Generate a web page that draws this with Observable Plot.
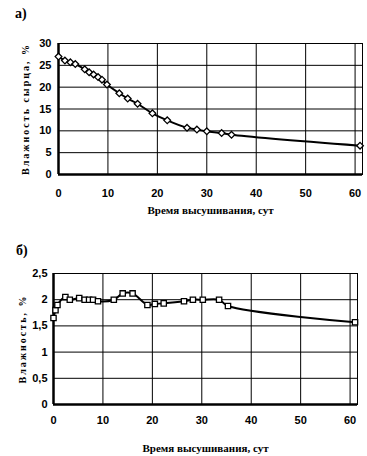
<!DOCTYPE html>
<html>
<head>
<meta charset="utf-8">
<script src="https://cdn.jsdelivr.net/npm/d3@7"></script>
<script src="https://cdn.jsdelivr.net/npm/@observablehq/plot@0.6"></script>
<style>
  body { margin: 0; background: #fff; }
  #wrap { position: relative; width: 367px; height: 456px; overflow: hidden; background: #fff; }
  .panel { position: absolute; left: 0; }
  .lab { position: absolute; font-family: "Liberation Serif", serif; font-weight: bold; font-size: 14px; color: #000; }
</style>
</head>
<body>
<div id="wrap">
  <div class="lab" style="left:15px; top:6px;">а)</div>
  <div class="lab" style="left:16px; top:243px;">б)</div>
  <div class="panel" id="top" style="top:30px;"></div>
  <div class="panel" id="bot" style="top:262px;"></div>
</div>
<script>
// Panel а) — moisture of raw brick vs drying time
const daysA = [0, 1.3, 2.4, 3.4, 5.3, 6.2, 7.1, 8, 8.8, 9.8, 12.3, 14, 16, 19, 22, 26, 28, 30, 33, 35, 61];
const moistA = [27, 26.1, 25.7, 25.3, 24.1, 23.4, 22.9, 22.3, 21.7, 20.6, 18.6, 17.4, 16.2, 14, 12.4, 10.7, 10.3, 9.9, 9.5, 9.1, 6.6];
// Panel б) — moisture vs drying time
const daysB = [0, 0.4, 0.8, 2.4, 3.3, 5.2, 6.3, 7.2, 8, 9, 12.2, 14, 16, 19, 20.5, 22.3, 26.4, 28.2, 30.2, 33.5, 35.3, 61];
const moistB = [1.65, 1.8, 1.9, 2.05, 2.0, 2.03, 2.0, 2.0, 2.0, 1.97, 2.0, 2.12, 2.12, 1.9, 1.92, 1.93, 1.97, 2.0, 2.0, 2.0, 1.88, 1.57];

const xTicks = [0, 10, 20, 30, 40, 50, 60];
const yTicksA = [0, 5, 10, 15, 20, 25, 30];
const yTicksB = [0, 0.5, 1, 1.5, 2, 2.5];
const xTitle = "Время высушивания, сут";
const yTitleA = "Влажность сырца, %";
const yTitleB = "Влажность, %";

const dataA = daysA.map((d, i) => ({x: d, y: moistA[i]}));
const dataB = daysB.map((d, i) => ({x: d, y: moistB[i]}));

const tickFont = '"Liberation Sans Narrow", "Liberation Sans", Arial, sans-serif';
const titleFont = '"Liberation Serif", "Times New Roman", serif';

function makeChart(opts) {
  const p = Plot.plot({
    width: 367,
    height: opts.height,
    marginTop: opts.mt,
    marginBottom: opts.mb,
    marginLeft: opts.ml,
    marginRight: opts.mr,
    style: {fontFamily: tickFont, fontSize: "11px", fontWeight: "bold", color: "#000", background: "#fff", overflow: "visible"},
    x: {domain: [0, 61.5], ticks: xTicks},
    y: {domain: opts.ydomain, ticks: opts.yticks},
    marks: [
      Plot.ruleY(opts.yticks, {stroke: "#000", strokeWidth: 1}),
      Plot.ruleX(xTicks, {stroke: "#000", strokeWidth: 1}),
      Plot.frame({stroke: "#000", strokeWidth: 1}),
      Plot.ruleX([0], {stroke: "#000", strokeWidth: 2.5}),
      Plot.ruleY([0], {stroke: "#000", strokeWidth: 2.5}),
      Plot.line(opts.data, {x: "x", y: "y", stroke: "#000", strokeWidth: 2, curve: "catmull-rom"}),
      Plot.dot(opts.data, {x: "x", y: "y", symbol: opts.symbol, r: opts.r, fill: "#fff", stroke: "#000", strokeWidth: 1.3}),
      Plot.axisX(xTicks, {tickSize: 0, tickPadding: opts.xpad, label: null, fontWeight: "bold"}),
      Plot.axisY(opts.yticks, {tickSize: 0, tickPadding: opts.ypad, label: null, fontWeight: "bold",
        tickFormat: d => String(d).replace(".", ",")}),
      Plot.text([xTitle], {frameAnchor: "bottom", dy: opts.xtdy, text: d => d, fontFamily: titleFont,
        fontSize: 11, fontWeight: "bold", lineAnchor: "middle", textAnchor: "middle"}),
      Plot.text([opts.ytitle], {frameAnchor: "left", dx: opts.ytdx, rotate: -90, text: d => d, fontFamily: titleFont,
        fontSize: 10, fontWeight: "bold", lineAnchor: "middle", textAnchor: "middle"})
    ]
  });
  d3.select(p).selectAll("text")
    .filter(function() { return this.textContent.startsWith("Влажность"); })
    .style("letter-spacing", "2px");
  return p;
}

document.getElementById("top").appendChild(makeChart({
  height: 190, mt: 13, mb: 46, ml: 58, mr: 5,
  ydomain: [0, 30], yticks: yTicksA, data: dataA, symbol: "diamond2", r: 3,
  xpad: 15, ypad: 7, xtdy: 36, ytdx: -33, ytitle: yTitleA
}));
document.getElementById("bot").appendChild(makeChart({
  height: 194, mt: 11, mb: 52, ml: 53, mr: 10,
  ydomain: [0, 2.5], yticks: yTicksB, data: dataB, symbol: "square", r: 3,
  xpad: 12, ypad: 6, xtdy: 44, ytdx: -31, ytitle: yTitleB
}));
</script>
</body>
</html>
